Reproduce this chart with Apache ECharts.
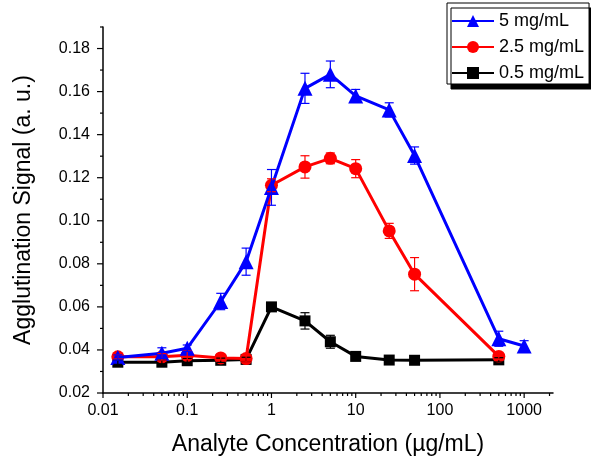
<!DOCTYPE html>
<html><head><meta charset="utf-8">
<script src="https://cdn.jsdelivr.net/npm/echarts@6/dist/echarts.min.js"></script>
<style>html,body{margin:0;padding:0;background:#fff}#c{width:591px;height:461px}</style>
</head><body><div id="c"></div>
<script>
// ---- data ----
const seriesNames = ['5 mg/mL', '2.5 mg/mL', '0.5 mg/mL'];
const conc5  = [0.015, 0.05, 0.1, 0.25, 0.5, 1, 2.5, 5, 10, 25, 50, 500, 1000];
const sig5   = [0.0365, 0.0385, 0.0408, 0.0625, 0.0810, 0.1155, 0.1615, 0.1680, 0.1580, 0.1515, 0.1303, 0.0452, 0.0418];
const err5   = [0.0012, 0.0025, 0.0015, 0.0038, 0.0063, 0.0083, 0.0070, 0.0062, 0.0030, 0.0033, 0.0040, 0.0035, 0.0025];
const conc25 = [0.015, 0.05, 0.1, 0.25, 0.5, 1, 2.5, 5, 10, 25, 50, 500];
const sig25  = [0.0368, 0.0368, 0.0375, 0.0363, 0.0360, 0.1165, 0.1250, 0.1290, 0.1242, 0.0953, 0.0752, 0.0370];
const err25  = [0.0010, 0.0015, 0.0020, 0.0010, 0.0015, 0.0030, 0.0052, 0.0025, 0.0042, 0.0035, 0.0077, 0.0015];
const conc05 = [0.015, 0.05, 0.1, 0.25, 0.5, 1, 2.5, 5, 10, 25, 50, 500];
const sig05  = [0.0343, 0.0343, 0.0350, 0.0352, 0.0356, 0.0600, 0.0535, 0.0438, 0.0370, 0.0353, 0.0352, 0.0354];
const err05  = [0.0010, 0.0010, 0.0010, 0.0010, 0.0010, 0.0012, 0.0038, 0.0030, 0.0010, 0.0010, 0.0010, 0.0010];
// ticks
const xMajorTicks = [0.01, 0.1, 1, 10, 100, 1000];
const xMinorMult  = [2, 3, 4, 5, 6, 7, 8, 9];
const yMajorTicks = [0.02, 0.04, 0.06, 0.08, 0.10, 0.12, 0.14, 0.16, 0.18];
const yMinorTicks = [0.03, 0.05, 0.07, 0.09, 0.11, 0.13, 0.15, 0.17, 0.19];
const X_MIN = 0.01, X_MAX = 2200, Y_MIN = 0.02, Y_MAX = 0.19;

const xMinorTicks = [];
xMajorTicks.forEach(d => xMinorMult.forEach(m => { const v = +(m * d).toPrecision(3); if (v <= X_MAX) xMinorTicks.push(v); }));

const FONT = '"Liberation Sans", Arial, sans-serif';
const chart = echarts.init(document.getElementById('c'));

function errRender(color, cap) {
  return function (params, api) {
    const x = api.value(0), lo = api.value(1), hi = api.value(2);
    const a = api.coord([x, hi]), b = api.coord([x, lo]);
    const st = { stroke: color, lineWidth: 1.2 };
    return { type: 'group', children: [
      { type: 'line', shape: { x1: a[0], y1: a[1], x2: b[0], y2: b[1] }, style: st },
      { type: 'line', shape: { x1: a[0] - cap, y1: a[1], x2: a[0] + cap, y2: a[1] }, style: st },
      { type: 'line', shape: { x1: b[0] - cap, y1: b[1], x2: b[0] + cap, y2: b[1] }, style: st }
    ]};
  };
}
function xTickRender(len) {
  return function (params, api) {
    const p = api.coord([api.value(0), Y_MIN]);
    return { type: 'line', shape: { x1: p[0], y1: p[1], x2: p[0], y2: p[1] + len }, style: { stroke: '#000', lineWidth: 1.2 } };
  };
}
function yTickRender(len) {
  return function (params, api) {
    const p = api.coord([X_MIN, api.value(1)]);
    return { type: 'line', shape: { x1: p[0], y1: p[1], x2: p[0] - len, y2: p[1] }, style: { stroke: '#000', lineWidth: 1.2 } };
  };
}
function lineSeries(name, xs, ys, color, symbol, size, z) {
  return { name, type: 'line', data: xs.map((x, i) => [x, ys[i]]), color,
    symbol, symbolSize: size, showAllSymbol: true, z,
    lineStyle: { color, width: 3 }, itemStyle: { color }, animation: false };
}
function errSeries(xs, ys, es, color) {
  return { type: 'custom', data: xs.map((x, i) => [x, ys[i] - es[i], ys[i] + es[i]]),
    encode: { x: 0, y: [1, 2] }, renderItem: errRender(color, 4.5), z: 6, silent: true, animation: false };
}
function tickSeries(data, render) {
  return { type: 'custom', data, renderItem: render, clip: false, silent: true, z: 7, animation: false, encode: { x: 0, y: 1 } };
}

chart.setOption({
  animation: false,
  backgroundColor: '#fff',
  grid: { left: 103, right: 38, top: 27, bottom: 68 },
  legend: {
    data: seriesNames, orient: 'vertical', left: 447, top: 3,
    itemWidth: 42, itemHeight: 15, itemGap: 6,
    padding: [8, 5, 1, 4],
    backgroundColor: '#fff', borderColor: '#000', borderWidth: 1,
    shadowColor: '#000', shadowBlur: 0, shadowOffsetX: 4, shadowOffsetY: 5,
    textStyle: { fontFamily: FONT, fontSize: 18, color: '#000', lineHeight: 20, padding: [0, 0, 0, 0] },
    selectedMode: false
  },
  xAxis: {
    type: 'log', logBase: 10, min: X_MIN, max: X_MAX,
    name: 'Analyte Concentration (µg/mL)', nameLocation: 'middle', nameGap: 40,
    nameTextStyle: { fontFamily: FONT, fontSize: 23, color: '#000' },
    axisLine: { show: true, lineStyle: { color: '#000', width: 1.5 } },
    axisTick: { show: false }, splitLine: { show: false }, minorTick: { show: false },
    axisLabel: { fontFamily: FONT, fontSize: 16, color: '#000', margin: 10,
      formatter: v => { const l = Math.log10(v); return Math.abs(l - Math.round(l)) < 1e-6 && v <= 1000 ? String(+v.toPrecision(3)) : ''; } }
  },
  yAxis: {
    type: 'value', min: Y_MIN, max: Y_MAX, interval: 0.02,
    name: 'Agglutination Signal (a. u.)', nameLocation: 'middle', nameGap: 68,
    nameTextStyle: { fontFamily: FONT, fontSize: 23, color: '#000' },
    axisLine: { show: true, lineStyle: { color: '#000', width: 1.5 } },
    axisTick: { show: false }, splitLine: { show: false },
    axisLabel: { fontFamily: FONT, fontSize: 16, color: '#000', margin: 13,
      formatter: v => v > 0.185 ? '' : v.toFixed(2) }
  },
  series: [
    lineSeries(seriesNames[2], conc05, sig05, '#000000', 'rect', 11, 2),
    lineSeries(seriesNames[1], conc25, sig25, '#ff0000', 'circle', 13, 3),
    lineSeries(seriesNames[0], conc5, sig5, '#0000ff', 'triangle', 15, 4),
    errSeries(conc05, sig05, err05, '#000000'),
    errSeries(conc25, sig25, err25, '#ff0000'),
    errSeries(conc5, sig5, err5, '#0000ff'),
    tickSeries(xMajorTicks.map(v => [v, Y_MIN]), xTickRender(5)),
    tickSeries(xMinorTicks.map(v => [v, Y_MIN]), xTickRender(3)),
    tickSeries(yMajorTicks.map(v => [X_MIN, v]), yTickRender(6)),
    tickSeries(yMinorTicks.map(v => [X_MIN, v]), yTickRender(3))
  ]
});
</script>
</body></html>
